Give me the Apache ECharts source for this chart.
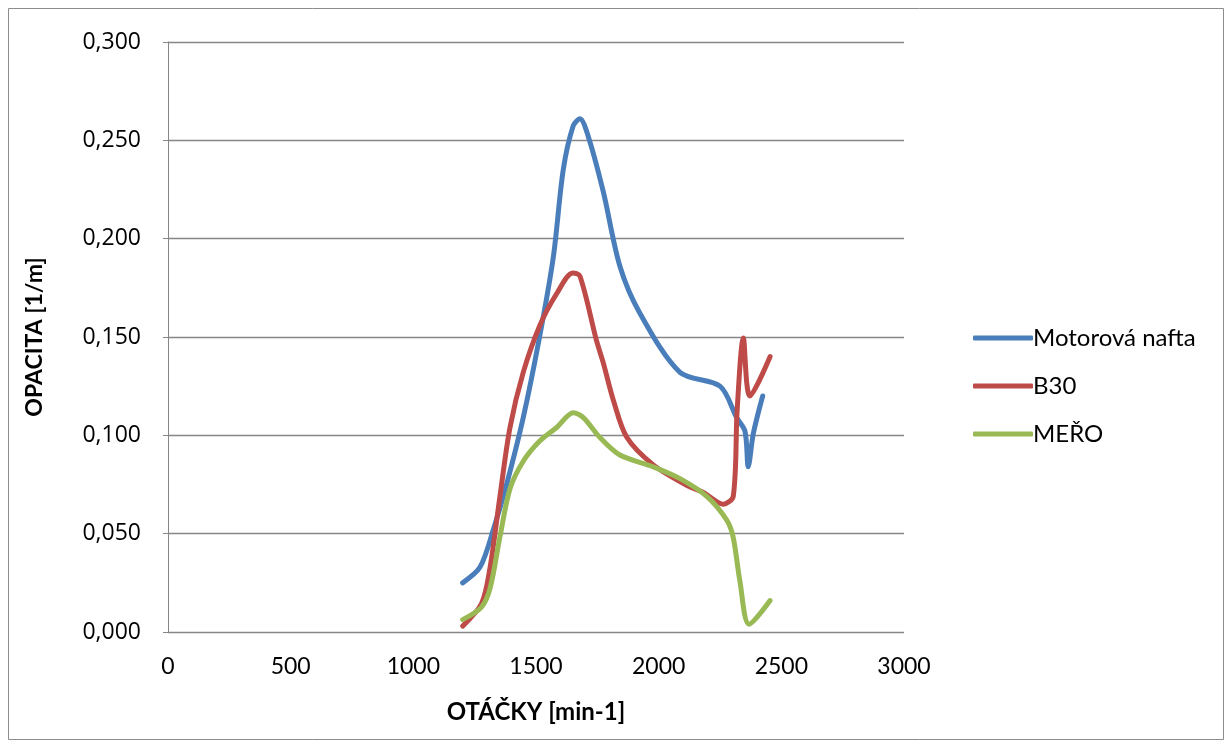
<!DOCTYPE html>
<html><head><meta charset="utf-8">
<script src="https://cdn.jsdelivr.net/npm/echarts@6/dist/echarts.min.js"></script>
<style>html,body{margin:0;padding:0;background:#fff}#c{width:1232px;height:747px}</style>
</head><body><div id="c"></div>
<script>
const seriesNames = ['Motorová nafta', 'B30', 'MEŘO'];
const naftaX = [1201,1272,1326,1380,1448,1516,1571,1611,1652,1679,1713,1774,1842,1924,2087,2250,2318,2352,2365,2386,2424];
const naftaY = [0.025,0.033,0.052,0.075,0.109,0.151,0.191,0.235,0.2575,0.261,0.252,0.224,0.186,0.162,0.132,0.125,0.109,0.102,0.084,0.101,0.120];
const b30X = [1201,1278,1313,1353,1394,1448,1516,1584,1650,1679,1747,1774,1815,1870,1978,2114,2182,2264,2304,2320,2345,2372,2454];
const b30Y = [0.003,0.0145,0.033,0.069,0.104,0.132,0.156,0.172,0.1826,0.181,0.148,0.137,0.118,0.099,0.085,0.0746,0.071,0.065,0.069,0.113,0.1495,0.120,0.140];
const meroX = [1201,1278,1313,1353,1394,1448,1516,1584,1652,1693,1760,1842,1978,2087,2196,2277,2304,2331,2369,2454];
const meroY = [0.0063,0.0127,0.0223,0.0484,0.0728,0.0868,0.0972,0.104,0.1115,0.109,0.099,0.090,0.084,0.078,0.069,0.057,0.048,0.026,0.004,0.016];
const colors = ['#4A7EBB', '#BE4B48', '#98B954'];

const zip = (xs, ys) => xs.map((x, i) => [x, ys[i]]);
const chart = echarts.init(document.getElementById('c'));
chart.setOption({
  animation: false,
  backgroundColor: '#fff',
  graphic: [{type:'rect', shape:{x:8.5,y:8.5,width:1215,height:731}, style:{fill:'none', stroke:'#8c8c8c', lineWidth:1}}],
  grid: {left:168, right:328, top:42, bottom:115},
  xAxis: {
    type:'value', min:0, max:3000, interval:500,
    name:'OTÁČKY [min-1]', nameLocation:'middle', nameGap:68,
    nameTextStyle:{fontFamily:'Lato', fontWeight:'bold', fontSize:24, color:'#000'},
    axisLine:{show:false}, axisTick:{show:false}, splitLine:{show:false},
    axisLabel:{fontFamily:'Lato', fontSize:23, color:'#000', margin:23, formatter: v => String(v)}
  },
  yAxis: {
    type:'value', min:0, max:0.3, interval:0.05,
    name:'OPACITA [1/m]', nameLocation:'middle', nameGap:122,
    nameTextStyle:{fontFamily:'Lato', fontWeight:'bold', fontSize:23, color:'#000'},
    axisLine:{show:true, lineStyle:{color:'#868686', width:1}},
    axisTick:{show:true, length:5, lineStyle:{color:'#868686'}},
    splitLine:{show:true, lineStyle:{color:'#868686', width:1.3}},
    axisLabel:{fontFamily:'Open Sans', fontSize:23, color:'#000', margin:27,
      formatter: v => v.toFixed(3).replace('.', ',')}
  },
  legend: {
    orient:'vertical', left:968, top:321, itemWidth:60, itemHeight:5, itemGap:24,
    icon:'roundRect',
    textStyle:{fontFamily:'Lato', fontSize:24, color:'#000', padding:[0,0,0,-5]},
    data: seriesNames
  },
  series: [
    {name:seriesNames[0], data:zip(naftaX, naftaY)},
    {name:seriesNames[1], data:zip(b30X, b30Y)},
    {name:seriesNames[2], data:zip(meroX, meroY)}
  ].map((s, i) => Object.assign(s, {
    type:'line', smooth:0.3, showSymbol:false, symbol:'none', color:colors[i],
    lineStyle:{width:5, color:colors[i], cap:'round', join:'round'}
  }))
});
</script></body></html>
